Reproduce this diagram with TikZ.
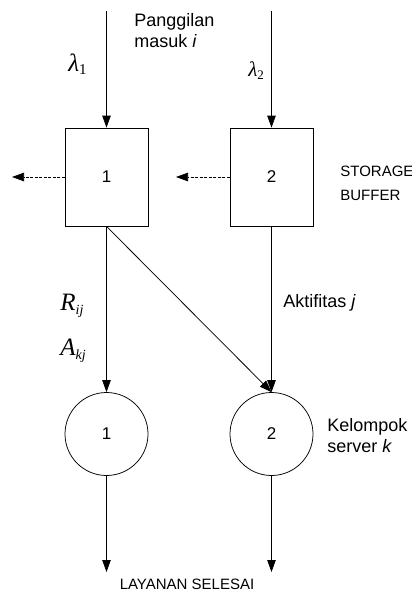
\documentclass[tikz,border=0pt]{standalone}
\usepackage{fontspec}
\setmainfont{Liberation Sans}
\newfontfamily\timesfont{Liberation Serif}
\usetikzlibrary{arrows.meta}

\begin{document}
\begin{tikzpicture}[x=1pt, y=-1pt, line width=0.75pt,
    box/.style={rectangle, draw, minimum width=83pt, minimum height=98pt, inner sep=0pt, font=\fontsize{17}{20}\selectfont},
    server/.style={circle, draw, minimum size=83pt, inner sep=0pt, font=\fontsize{17}{20}\selectfont},
    arus/.style={-{Triangle[length=12pt, width=8.5pt]}},
    teks/.style={inner sep=0pt, anchor=base west, align=left}]
    % 境界
    \useasboundingbox (0,0) rectangle (412,592);

    % ノード
    \node[box] (B1) at (106.5,177) {1};
    \node[box] (B2) at (271.5,177) {2};
    \node[server] (S1) at (106.5,434) {1};
    \node[server] (S2) at (271.5,434) {2};

    % 端点
    \coordinate (in1) at (106.5,11);
    \coordinate (in2) at (271.5,11);
    \coordinate (lost1) at (12,177);
    \coordinate (lost2) at (176,177);
    \coordinate (out1) at (106.5,572);
    \coordinate (out2) at (271.5,572);

    % エッジ
    \draw[arus] (in1) -- (B1);
    \draw[arus] (in2) -- (B2);
    \draw[arus, dash pattern=on 3pt off 1.5pt] (B1.west) -- (lost1);
    \draw[arus, dash pattern=on 3pt off 1.5pt] (B2.west) -- (lost2);
    \draw[arus] (B1.south) -- (S1);
    \draw[arus] (B1.south) -- (S2.north);
    \draw[arus] (B2.south) -- (S2);
    \draw[arus] (S1) -- (out1);
    \draw[arus] (S2) -- (out2);

    % ラベル（複数行は最終行のベースライン）
    \node[teks, font=\fontsize{18}{21}\selectfont] (panggilan) at (134,47) {Panggilan\\masuk \textit{i}};
    \node[teks] (lambda1) at (68,71) {\timesfont\fontsize{25}{25}\selectfont\itshape λ\raisebox{-3pt}{\upshape\fontsize{15}{15}\selectfont 1}};
    \node[teks] (lambda2) at (248,76) {\timesfont\fontsize{21}{21}\selectfont\itshape λ\raisebox{-3pt}{\upshape\fontsize{13}{13}\selectfont 2}};
    \node[teks, font=\fontsize{15}{24}\selectfont] (storage) at (340,200) {STORAGE\\BUFFER};
    \node[teks, font=\fontsize{18}{21}\selectfont] (aktifitas) at (283,307) {Aktifitas \textit{j}};
    \node[teks] (rij) at (60,310) {\timesfont\itshape\fontsize{25}{25}\selectfont R\raisebox{-4pt}{\fontsize{14}{14}\selectfont ij}};
    \node[teks] (akj) at (60,355) {\timesfont\itshape\fontsize{25}{25}\selectfont A\raisebox{-4pt}{\fontsize{14}{14}\selectfont kj}};
    \node[teks, font=\fontsize{18}{21}\selectfont] (kelompok) at (327,452) {Kelompok\\server \textit{k}};
    \node[inner sep=0pt, anchor=base, font=\fontsize{15}{15}\selectfont] (selesai) at (187,589) {LAYANAN SELESAI};
\end{tikzpicture}
\end{document}
